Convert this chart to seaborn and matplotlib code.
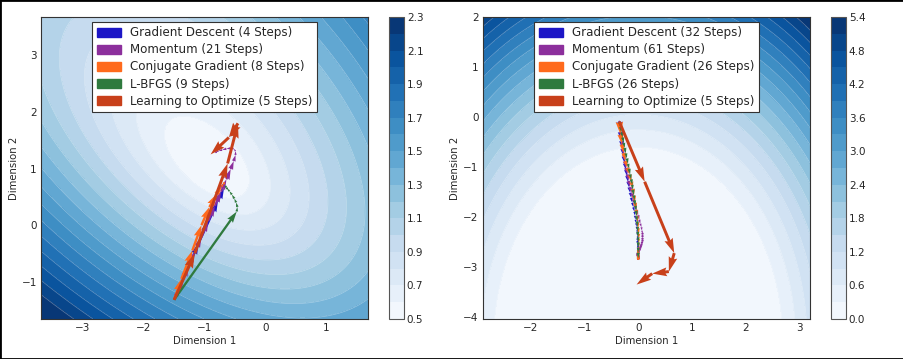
import numpy as np
import matplotlib
matplotlib.use("Agg")
import matplotlib.pyplot as plt
import seaborn as sns
from matplotlib.patches import Patch, Rectangle

# methods / colours
methods = ["Gradient Descent", "Momentum", "Conjugate Gradient", "L-BFGS", "Learning to Optimize"]
colors = ["#1c16c6", "#8c2f9c", "#ff6a1c", "#2f7a3e", "#c8401a"]
widths = [0.0065, 0.0065, 0.0075, 0.007, 0.009]
steps_left = [4, 21, 8, 9, 5]
steps_right = [32, 61, 26, 26, 5]

# left panel trajectories
gd_l_x = [-1.50, -1.10, -0.78, -0.68, -0.65]
gd_l_y = [-1.32, -0.33, 0.42, 0.65, 0.70]
mom_l_x = [-1.50, -1.47, -1.42, -1.35, -1.26, -1.16, -1.05, -0.94, -0.83, -0.73, -0.64,
           -0.57, -0.52, -0.49, -0.49, -0.52, -0.57, -0.64, -0.71, -0.77, -0.81, -0.84]
mom_l_y = [-1.32, -1.25, -1.12, -0.94, -0.72, -0.47, -0.21, 0.07, 0.34, 0.59, 0.81,
           0.99, 1.13, 1.24, 1.31, 1.35, 1.36, 1.35, 1.33, 1.31, 1.29, 1.28]
cg_l_x = [-1.50, -1.38, -1.20, -1.05, -0.92, -0.80, -0.72, -0.68, -0.66]
cg_l_y = [-1.32, -0.95, -0.45, 0.00, 0.32, 0.55, 0.68, 0.74, 0.76]
lbfgs_l_x = [-1.50, -0.47, -0.46, -0.48, -0.51, -0.55, -0.59, -0.63, -0.65, -0.66]
lbfgs_l_y = [-1.32, 0.24, 0.32, 0.40, 0.47, 0.54, 0.60, 0.65, 0.68, 0.70]
l2o_l_x = [-1.50, -1.16, -0.62, -0.45, -0.60, -0.90]
l2o_l_y = [-1.32, -0.50, 1.09, 1.80, 1.55, 1.25]

# right panel trajectories
gd_r_x = [-0.35, -0.33, -0.31, -0.29, -0.27, -0.25, -0.23, -0.21, -0.19, -0.17, -0.15,
          -0.13, -0.11, -0.09, -0.07, -0.06, -0.05, -0.04, -0.03, -0.02, -0.02, -0.01,
          -0.01, -0.01, 0.00, 0.00, 0.00, 0.00, 0.00, 0.00, 0.00, 0.00, 0.00]
gd_r_y = [-0.10, -0.30, -0.48, -0.64, -0.79, -0.93, -1.06, -1.18, -1.30, -1.41, -1.52,
          -1.62, -1.72, -1.81, -1.90, -1.98, -2.06, -2.13, -2.20, -2.27, -2.33, -2.39,
          -2.45, -2.50, -2.55, -2.59, -2.63, -2.67, -2.71, -2.74, -2.77, -2.80, -2.83]
mom_r_x = [-0.35, -0.35, -0.35, -0.34, -0.33, -0.32, -0.31, -0.29, -0.27, -0.25, -0.23,
           -0.20, -0.18, -0.15, -0.12, -0.09, -0.06, -0.03, 0.00, 0.02, 0.04,
           0.06, 0.07, 0.08, 0.08, 0.08, 0.08, 0.07, 0.06, 0.05, 0.04,
           0.03, 0.02, 0.01, 0.00, 0.00, -0.01, -0.01, -0.01, -0.01, -0.01,
           0.00, 0.00, 0.00, 0.00, 0.00, 0.00, 0.00, 0.00, 0.00, 0.00,
           0.00, 0.00, 0.00, 0.00, 0.00, 0.00, 0.00, 0.00, 0.00, 0.00, 0.00]
mom_r_y = [-0.10, -0.12, -0.16, -0.22, -0.30, -0.40, -0.51, -0.63, -0.76, -0.89, -1.02,
           -1.15, -1.28, -1.41, -1.53, -1.65, -1.76, -1.87, -1.97, -2.06, -2.14,
           -2.21, -2.28, -2.34, -2.39, -2.44, -2.48, -2.52, -2.56, -2.59, -2.62,
           -2.65, -2.67, -2.69, -2.71, -2.73, -2.74, -2.75, -2.76, -2.77, -2.78,
           -2.785, -2.79, -2.795, -2.80, -2.805, -2.81, -2.815, -2.82, -2.822, -2.825,
           -2.827, -2.829, -2.831, -2.833, -2.835, -2.836, -2.837, -2.838, -2.839, -2.84, -2.841]
cg_r_x = [-0.35, -0.33, -0.30, -0.27, -0.24, -0.20, -0.16, -0.13, -0.10, -0.08, -0.06,
          -0.04, -0.02, -0.01, 0.00, 0.01, 0.01, 0.01, 0.01, 0.00, 0.00,
          0.00, 0.00, 0.00, 0.00, 0.00, 0.00]
cg_r_y = [-0.10, -0.35, -0.55, -0.72, -0.88, -1.02, -1.16, -1.30, -1.44, -1.58, -1.72,
          -1.86, -1.99, -2.11, -2.23, -2.34, -2.44, -2.53, -2.61, -2.68, -2.73,
          -2.77, -2.80, -2.82, -2.83, -2.84, -2.85]
lbfgs_r_x = [-0.35, -0.33, -0.31, -0.29, -0.27, -0.25, -0.23, -0.21, -0.19, -0.17, -0.15,
             -0.13, -0.11, -0.10, -0.08, -0.07, -0.05, -0.04, -0.03, -0.02, -0.01,
             -0.01, 0.00, 0.00, 0.00, 0.00, 0.00]
lbfgs_r_y = [-0.10, -0.20, -0.31, -0.41, -0.52, -0.62, -0.73, -0.83, -0.94, -1.04, -1.15,
             -1.25, -1.36, -1.46, -1.57, -1.67, -1.78, -1.88, -1.99, -2.09, -2.20,
             -2.30, -2.41, -2.51, -2.62, -2.72, -2.83]
l2o_r_x = [-0.35, 0.12, 0.67, 0.57, 0.26, -0.03]
l2o_r_y = [-0.10, -1.30, -2.73, -3.10, -3.14, -3.36]

left_paths = [(gd_l_x, gd_l_y), (mom_l_x, mom_l_y), (cg_l_x, cg_l_y),
              (lbfgs_l_x, lbfgs_l_y), (l2o_l_x, l2o_l_y)]
right_paths = [(gd_r_x, gd_r_y), (mom_r_x, mom_r_y), (cg_r_x, cg_r_y),
               (lbfgs_r_x, lbfgs_r_y), (l2o_r_x, l2o_r_y)]

# loss surfaces (shape parameters)
left_xlim, left_ylim = (-3.69, 1.69), (-1.66, 3.68)
right_xlim, right_ylim = (-2.89, 3.2), (-4.05, 2.0)
left_levels = np.arange(0.5, 2.3001, 0.1)
right_levels = np.arange(0.0, 5.4001, 0.3)


def left_surface(X, Y, cx=-0.86, cy=0.98, mu=0.2, mv=0.06, ku=-0.077, kv=0.062, h=0.15):
    dx, dy = X - cx, Y - cy
    u = (dx + dy) / np.sqrt(2)
    v = (dx - dy) / np.sqrt(2)
    n = np.sqrt(mu * u ** 2 + mv * v ** 2) + ku * u + kv * v
    return 0.5 + np.sqrt(h ** 2 + n ** 2) - h


def right_surface(X, Y, ax_=0.69, y0=-4.5, r0=3.4, a=0.75, p=1.3):
    r = np.sqrt((X / ax_) ** 2 + (Y - y0) ** 2)
    return a * np.maximum(r - r0, 0) ** p


sns.set_style("white")
plt.rcParams["font.family"] = ["DejaVu Sans"]
cmap = sns.color_palette("Blues", as_cmap=True)

fig = plt.figure(figsize=(9.04, 3.59), dpi=100)
fig.add_artist(Rectangle((0, 0), 1, 1, transform=fig.transFigure, fill=False,
                         edgecolor="black", linewidth=2))

panels = [
    ([0.0454, 0.1114, 0.3617, 0.8412], [0.430, 0.1114, 0.0169, 0.8412],
     left_xlim, left_ylim, left_surface, left_levels, np.arange(0.5, 2.31, 0.2),
     left_paths, steps_left, 1.0),
    ([0.534, 0.1114, 0.3624, 0.8412], [0.919, 0.1114, 0.0169, 0.8412],
     right_xlim, right_ylim, right_surface, right_levels, np.arange(0.0, 5.41, 0.6),
     right_paths, steps_right, 1.2),
]

for pos, cpos, xlim, ylim, surf, levels, cticks, paths, steps, wscale in panels:
    ax = fig.add_axes(pos)
    cax = fig.add_axes(cpos)
    gx = np.linspace(xlim[0], xlim[1], 400)
    gy = np.linspace(ylim[0], ylim[1], 400)
    X, Y = np.meshgrid(gx, gy)
    Z = np.clip(surf(X, Y), levels[0] + 1e-6, levels[-1] - 1e-6)
    cs = ax.contourf(X, Y, Z, levels=levels, cmap=cmap)
    ax.contour(X, Y, Z, levels=levels, colors="white", linewidths=0.5, alpha=0.35)

    for i, ((px, py), c, w) in enumerate(zip(paths, colors, widths)):
        px, py = np.array(px), np.array(py)
        ws = 1.0 if i == 4 else wscale
        ax.quiver(px[:-1], py[:-1], np.diff(px), np.diff(py), angles="xy",
                  scale_units="xy", scale=1, color=c, width=w * ws, zorder=3)

    ax.set_xlim(xlim)
    ax.set_ylim(ylim)
    ax.set_xlabel("Dimension 1", fontsize=7.3, labelpad=2)
    ax.set_ylabel("Dimension 2", fontsize=7.3, labelpad=2)
    ax.tick_params(direction="in", top=True, right=True, labelsize=7.5, length=4,
                   width=0.6, pad=3)
    for s in ax.spines.values():
        s.set_color("#333333")
        s.set_linewidth(0.8)

    handles = [Patch(facecolor=c, edgecolor=c) for c in colors]
    labels = [f"{m} ({n} Steps)" for m, n in zip(methods, steps)]
    leg = ax.legend(handles, labels, loc="upper center", bbox_to_anchor=(0.5, 0.985),
                    fontsize=8.6, frameon=True, fancybox=False, framealpha=1,
                    labelspacing=0.34, handlelength=2.0, handleheight=0.75,
                    borderpad=0.4, handletextpad=0.75, borderaxespad=0)
    leg.get_frame().set_edgecolor("#333333")
    leg.get_frame().set_linewidth(0.8)

    cb = fig.colorbar(cs, cax=cax, ticks=cticks, format="%.1f")
    cb.ax.tick_params(direction="in", labelsize=7.5, length=3, width=0.6, pad=2)
    cb.outline.set_edgecolor("#555555")
    cb.outline.set_linewidth(0.8)

fig.savefig("out.png", dpi=100)
